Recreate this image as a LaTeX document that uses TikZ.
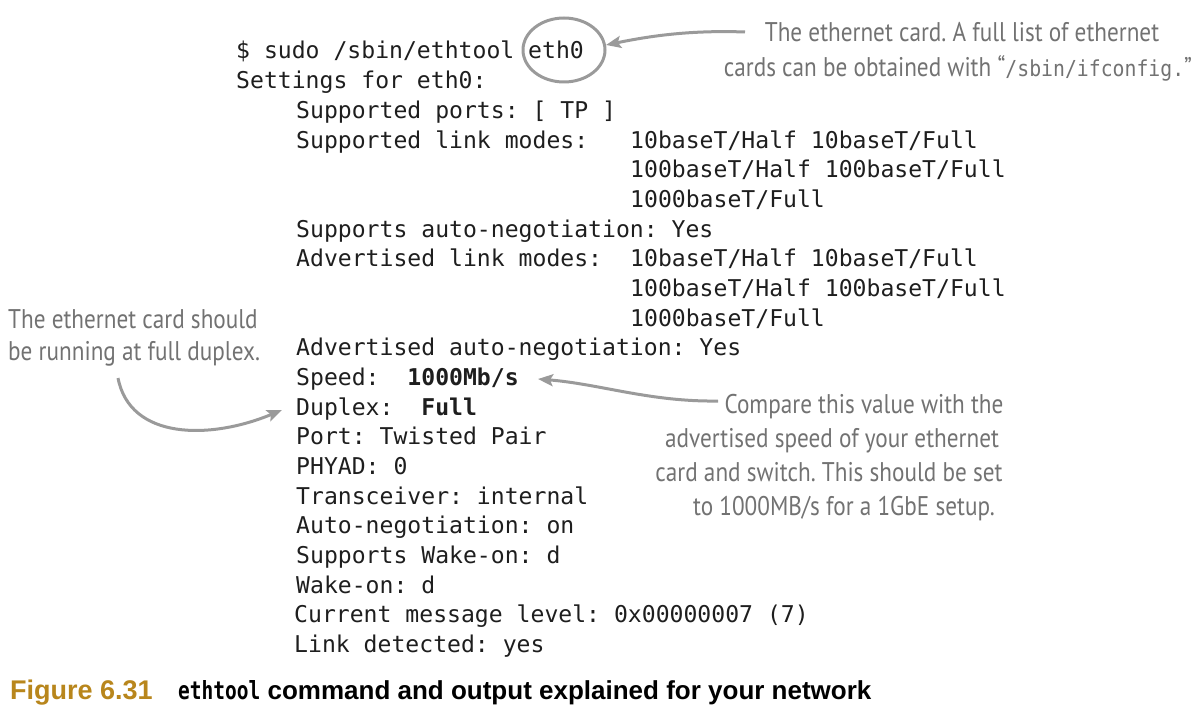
\documentclass[tikz,border=0pt]{standalone}
\usepackage{fontspec}
\usetikzlibrary{arrows.meta,shapes.geometric}
\setmainfont{DejaVu Sans}
\newfontfamily\termfont{DejaVu Sans Mono}
\newfontfamily\handfont[FakeStretch=0.86]{PT Sans}
\newfontfamily\handmono[FakeStretch=0.9]{DejaVu Sans Mono}
\newfontfamily\capfont{Liberation Sans}
\newfontfamily\capmono[FakeStretch=0.78]{DejaVu Sans Mono}
\definecolor{termcol}{HTML}{1E1E1E}
\definecolor{handcol}{HTML}{727272}
\definecolor{arrowcol}{HTML}{9A9A9A}
\definecolor{figcol}{HTML}{B8861C}
\frenchspacing
\tikzset{
  term/.style={font=\termfont\fontsize{23.1}{29.7}\selectfont, text=termcol, anchor=base west, inner sep=0pt},
  hand/.style={font=\handfont\fontsize{27}{34}\selectfont, text=handcol, inner sep=0pt, anchor=base},
  handleft/.style={hand, anchor=base west},
  pointer/.style={draw=arrowcol, line width=3pt, -{Stealth[length=15pt,width=12pt,inset=3pt]}},
  ring/.style={draw=arrowcol, line width=3pt, ellipse, minimum width=82pt, minimum height=64pt, inner sep=0pt},
  capt/.style={inner sep=0pt, anchor=base west}
}
\begin{document}
\begin{tikzpicture}[x=1pt,y=-1pt]
\useasboundingbox (0,0) rectangle (1202,722);
% terminal output
\node[term] (l1)  at (236,{59+0*29.67})  {\$ sudo /sbin/ethtool eth0};
\node[term] (l2)  at (236,{59+1*29.67})  {Settings for eth0:};
\node[term] (l3)  at (296,{59+2*29.67})  {Supported ports: [ TP ]};
\node[term] (l4)  at (296,{59+3*29.67})  {Supported link modes:};
\node[term] (l4b) at (630,{59+3*29.67})  {10baseT/Half 10baseT/Full};
\node[term] (l5)  at (630,{59+4*29.67})  {100baseT/Half 100baseT/Full};
\node[term] (l6)  at (630,{59+5*29.67})  {1000baseT/Full};
\node[term] (l7)  at (296,{59+6*29.67})  {Supports auto-negotiation: Yes};
\node[term] (l8)  at (296,{59+7*29.67})  {Advertised link modes:};
\node[term] (l8b) at (630,{59+7*29.67})  {10baseT/Half 10baseT/Full};
\node[term] (l9)  at (630,{59+8*29.67})  {100baseT/Half 100baseT/Full};
\node[term] (l10) at (630,{59+9*29.67})  {1000baseT/Full};
\node[term] (l11) at (296,{59+10*29.67}) {Advertised auto-negotiation: Yes};
\node[term] (l12) at (296,{59+11*29.67}) {Speed:\ \ \textbf{1000Mb/s}};
\node[term] (l13) at (296,{59+12*29.67}) {Duplex:\ \ \textbf{Full}};
\node[term] (l14) at (296,{59+13*29.67}) {Port: Twisted Pair};
\node[term] (l15) at (296,{59+14*29.67}) {PHYAD: 0};
\node[term] (l16) at (296,{59+15*29.67}) {Transceiver: internal};
\node[term] (l17) at (296,{59+16*29.67}) {Auto-negotiation: on};
\node[term] (l18) at (296,{59+17*29.67}) {Supports Wake-on: d};
\node[term] (l19) at (296,{59+18*29.67}) {Wake-on: d};
\node[term] (l20) at (294,{59+19*29.67}) {Current message level: 0x00000007 (7)};
\node[term] (l21) at (294,{59+20*29.67}) {Link detected: yes};
% ring around eth0
\node[ring] (circ) at (564,50) {};
% annotation 1
\node[hand] (a1a) at (962,42) {The ethernet card. A full list of ethernet};
\node[hand] (a1b) at (958,77) {cards can be obtained with \textquotedblleft{\handmono\fontsize{22}{34}\selectfont/sbin/ifconfig.}\textquotedblright};
\coordinate (a1s) at (745,32);
\coordinate (a1t) at (606,45);
\draw[pointer] (a1s) .. controls (690,30) and (650,36) .. (a1t);
% annotation 2
\node[handleft] (a2a) at (8,328) {The ethernet card should};
\node[handleft] (a2b) at (8,360) {be running at full duplex.};
\coordinate (a2s) at (118,378);
\coordinate (a2t) at (282,410);
\draw[pointer] (a2s) .. controls (130,440) and (210,440) .. (a2t);
% annotation 3
\node[hand] (a3a) at (864,413) {Compare this value with the};
\node[hand] (a3b) at (832,447) {advertised speed of your ethernet};
\node[hand] (a3c) at (829,481) {card and switch. This should be set};
\node[hand] (a3d) at (844,515) {to 1000MB/s for a 1GbE setup.};
\coordinate (a3s) at (718,401);
\coordinate (a3t) at (538,379);
\draw[pointer] (a3s) .. controls (650,402) and (600,384) .. (a3t);
% caption
\node[capt, text=figcol, font=\capfont\fontsize{27}{30}\selectfont\bfseries] (fig) at (10,699) {Figure 6.31};
\node[capt, font=\capfont\fontsize{26}{30}\selectfont\bfseries] (cap) at (178,699) {{\capmono\fontsize{25}{30}\selectfont\bfseries ethtool} command and output explained for your network};
\end{tikzpicture}
\end{document}
